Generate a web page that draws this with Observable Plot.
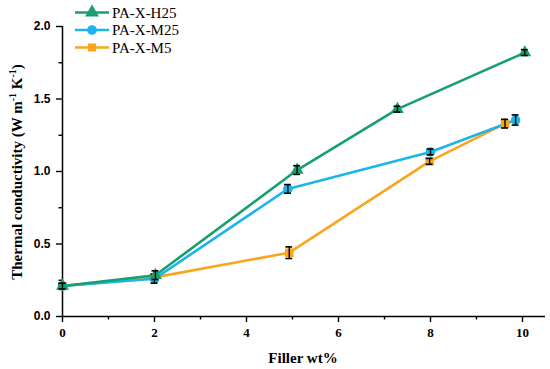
<!DOCTYPE html>
<html>
<head>
<meta charset="utf-8">
<script src="https://cdn.jsdelivr.net/npm/d3@7"></script>
<script src="https://cdn.jsdelivr.net/npm/@observablehq/plot@0.6"></script>
<style>
  html, body { margin: 0; padding: 0; background: #fff; }
  #chart { width: 550px; height: 369px; }
</style>
</head>
<body>
<div id="chart"></div>
<script>
// ---- data ----
const seriesNames = ["PA-X-H25", "PA-X-M25", "PA-X-M5"];
const seriesColors = ["#17a06d", "#1bb5ea", "#fba51c"];
const seriesSymbols = ["triangle", "circle", "square"];

const xH25 = [0, 2.02, 5.1, 7.28, 10.05];
const yH25 = [0.21, 0.285, 1.01, 1.43, 1.82];
const eH25 = [0.02, 0.03, 0.03, 0.02, 0.02];

const xM25 = [0, 2.0, 4.9, 8.0, 9.85];
const yM25 = [0.21, 0.26, 0.88, 1.135, 1.355];
const eM25 = [0.015, 0.03, 0.03, 0.02, 0.035];

const xM5 = [0, 2.0, 4.93, 7.98, 9.62];
const yM5 = [0.21, 0.27, 0.44, 1.07, 1.33];
const eM5 = [0.015, 0.02, 0.04, 0.02, 0.03];

const xTicks = [0, 2, 4, 6, 8, 10];
const xMinorTicks = [1, 3, 5, 7, 9];
const yTicks = [0, 0.5, 1.0, 1.5, 2.0];
const yMinorTicks = [0.25, 0.75, 1.25, 1.75];

// ---- build tables ----
const raw = [[xH25, yH25, eH25], [xM25, yM25, eM25], [xM5, yM5, eM5]];
const tables = raw.map(([xs, ys, es], i) =>
  xs.map((x, j) => ({series: seriesNames[i], x, y: ys[j], e: es[j]})));

const capHalf = 0.075; // cap half-width in x units
const marks = [];
// draw order: M5, M25, H25
for (const i of [2, 1, 0]) {
  const rows = tables[i];
  marks.push(Plot.line(rows, {x: "x", y: "y", stroke: seriesColors[i], strokeWidth: 2.6}));
}
for (const i of [2, 1, 0]) {
  const rows = tables[i];
  marks.push(Plot.dot(rows, {x: "x", y: "y", symbol: seriesSymbols[i], fill: seriesColors[i], r: 4.8}));
  marks.push(Plot.ruleX(rows, {x: "x", y1: d => d.y - d.e, y2: d => d.y + d.e, stroke: "black", strokeWidth: 1.4}));
  marks.push(Plot.ruleY(rows, {y: d => d.y - d.e, x1: d => d.x - capHalf, x2: d => d.x + capHalf, stroke: "black", strokeWidth: 1.6}));
  marks.push(Plot.ruleY(rows, {y: d => d.y + d.e, x1: d => d.x - capHalf, x2: d => d.x + capHalf, stroke: "black", strokeWidth: 1.6}));
}

const chart = Plot.plot({
  width: 550,
  height: 369,
  marginLeft: 62,
  marginRight: 5,
  marginTop: 26,
  marginBottom: 53,
  style: {background: "#fff", color: "#000"},
  x: {domain: [0, 10.5]},
  y: {domain: [0, 2]},
  marks: [
    Plot.ruleY([0], {stroke: "black", strokeWidth: 1.5}),
    Plot.ruleX([0], {y1: 0, y2: 2, stroke: "black", strokeWidth: 1.5}),
    Plot.axisX({ticks: xTicks, tickSize: 6, tickPadding: 5, tickFormat: d => String(d),
      fontFamily: "Liberation Serif", fontWeight: "bold", fontSize: 13, label: null, strokeWidth: 1.4}),
    Plot.axisX({ticks: xMinorTicks, tickSize: 3.5, tickFormat: () => "", label: null, strokeWidth: 1.4}),
    Plot.axisY({ticks: yTicks, tickSize: 6, tickPadding: 6, tickFormat: d3.format(".1f"),
      fontFamily: "Liberation Sans", fontWeight: "bold", fontSize: 12, label: null, strokeWidth: 1.4}),
    Plot.axisY({ticks: yMinorTicks, tickSize: 3.5, tickFormat: () => "", label: null, strokeWidth: 1.4}),
    ...marks
  ]
});
document.getElementById("chart").appendChild(chart);

const svg = d3.select(chart);
// enforce tick label fonts
svg.selectAll('g[aria-label="x-axis tick label"] text, g[aria-label="x-axis tick label"]')
  .style("font-family", "'Liberation Serif', serif").style("font-weight", "bold").style("font-size", "13px");
svg.selectAll('g[aria-label="y-axis tick label"] text, g[aria-label="y-axis tick label"]')
  .style("font-family", "'Liberation Sans', Arial, sans-serif").style("font-weight", "bold").style("font-size", "12px");

// ---- axis titles & legend (text) ----
svg.append("text")
  .attr("x", 303).attr("y", 363)
  .attr("text-anchor", "middle")
  .style("font-family", "'Liberation Serif', serif").style("font-weight", "bold").style("font-size", "15px")
  .attr("fill", "black")
  .text("Filler wt%");

const yt = svg.append("text")
  .attr("transform", "translate(22,172) rotate(-90)")
  .attr("text-anchor", "middle")
  .style("font-family", "'Liberation Serif', serif").style("font-weight", "bold").style("font-size", "15px")
  .attr("fill", "black");
yt.append("tspan").text("Thermal conductivity (W m");
yt.append("tspan").attr("dy", -6).style("font-size", "10px").text("-1");
yt.append("tspan").attr("dy", 6).text(" K");
yt.append("tspan").attr("dy", -6).style("font-size", "10px").text("-1");
yt.append("tspan").attr("dy", 6).text(")");

const legend = svg.append("g");
const symGen = {
  triangle: d3.symbol(d3.symbolTriangle, 85),
  circle: d3.symbol(d3.symbolCircle, 72),
  square: d3.symbol(d3.symbolSquare, 64)
};
seriesNames.forEach((name, i) => {
  const cy = 12.5 + i * 17.5;
  const g = legend.append("g");
  g.append("line").attr("x1", 75).attr("x2", 109).attr("y1", cy).attr("y2", cy)
    .attr("stroke", seriesColors[i]).attr("stroke-width", 2.6);
  g.append("path").attr("d", symGen[seriesSymbols[i]]())
    .attr("transform", `translate(92,${cy})`).attr("fill", seriesColors[i]);
  g.append("text").attr("x", 112).attr("y", cy + 5)
    .attr("text-anchor", "start")
    .style("font-family", "'Liberation Serif', serif").style("font-size", "15px").attr("fill", "black")
    .text(name);
});
</script>
</body>
</html>
